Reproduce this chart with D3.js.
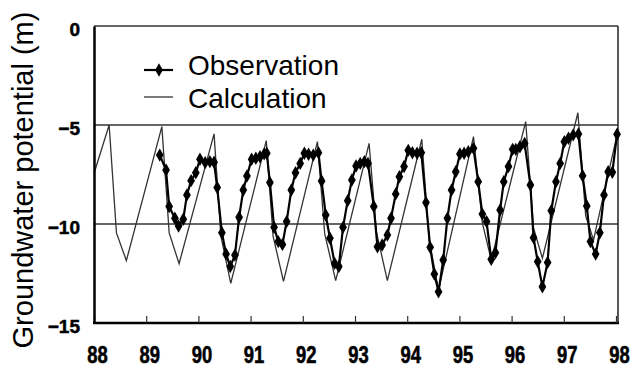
<!DOCTYPE html>
<html>
<head>
<meta charset="utf-8">
<script src="https://cdn.jsdelivr.net/npm/d3@7"></script>
<style>
  body{ margin:0; background:#fff; }
  svg{ display:block; font-family:"Liberation Sans", Arial, sans-serif; }
  .tick text{ font-weight:bold; fill:#000; stroke:#000; stroke-width:0.5px; }
</style>
</head>
<body>
<svg id="chart" width="630" height="372"></svg>
<script>
// year ticks along the bottom
var yearTicks = [88, 89, 90, 91, 92, 93, 94, 95, 96, 97, 98];
var levelTicks = [0, -5, -10, -15];

// calculated groundwater potential (vertices)
var calcYear = [88.00, 88.29, 88.43, 88.62, 89.30, 89.44, 89.63, 90.30, 90.43, 90.62,
                91.30, 91.43, 91.63, 92.28, 92.42, 92.63, 93.27, 93.41, 93.62, 94.28,
                94.42, 94.60, 95.27, 95.44, 95.61, 96.27, 96.42, 96.59, 97.27, 97.42,
                97.57, 98.02];
var calcLevel = [-7.45, -5.00, -10.45, -11.85, -5.08, -10.45, -12.00, -5.45, -10.6, -13.0,
                 -5.79, -10.6, -12.9, -5.84, -10.5, -12.86, -5.93, -10.4, -12.86, -5.72,
                 -10.8, -13.33, -5.59, -9.95, -11.82, -4.83, -10.2, -11.73, -4.38, -9.6,
                 -10.8, -5.5];

// observed groundwater potential (monthly)
var obsYear = [89.26, 89.38, 89.44, 89.55, 89.62, 89.71, 89.78, 89.86, 89.95, 90.03,
               90.13, 90.22, 90.30, 90.36, 90.45, 90.53, 90.61, 90.70, 90.78, 90.86,
               90.93, 91.02, 91.10, 91.18, 91.26, 91.31, 91.37, 91.45, 91.53, 91.61,
               91.69, 91.78, 91.86, 91.95, 92.03, 92.11, 92.20, 92.30, 92.36, 92.44,
               92.52, 92.61, 92.69, 92.77, 92.86, 92.94, 93.02, 93.10, 93.18, 93.25,
               93.36, 93.43, 93.52, 93.62, 93.69, 93.78, 93.85, 93.94, 94.02, 94.10,
               94.19, 94.27, 94.36, 94.44, 94.52, 94.60, 94.69, 94.77, 94.85, 94.93,
               95.01, 95.09, 95.17, 95.27, 95.36, 95.44, 95.52, 95.61, 95.69, 95.78,
               95.85, 95.94, 96.02, 96.08, 96.16, 96.25, 96.36, 96.42, 96.50, 96.59,
               96.69, 96.76, 96.85, 96.93, 97.01, 97.09, 97.18, 97.28, 97.36, 97.44,
               97.51, 97.61, 97.69, 97.77, 97.85, 97.93, 98.02];
var obsLevel = [-6.52, -7.27, -9.12, -9.71, -10.10, -9.76, -8.53, -7.81, -7.41, -6.73,
                -6.90, -6.85, -6.88, -8.16, -10.44, -11.52, -12.15, -11.57, -9.66, -8.28,
                -7.58, -6.73, -6.68, -6.60, -6.46, -6.43, -7.91, -10.17, -10.89, -11.03,
                -9.88, -8.28, -7.41, -6.94, -6.43, -6.48, -6.52, -6.40, -7.83, -9.55,
                -10.72, -11.99, -12.15, -10.17, -8.82, -7.78, -7.07, -6.94, -6.85, -6.94,
                -9.12, -11.15, -11.06, -10.56, -9.71, -8.48, -7.61, -7.10, -6.28, -6.40,
                -6.43, -6.40, -8.92, -11.18, -12.53, -13.42, -11.82, -9.71, -8.28, -7.36,
                -6.46, -6.43, -6.35, -6.18, -7.86, -9.50, -9.88, -11.78, -11.45, -9.29,
                -7.86, -7.10, -6.23, -6.23, -6.10, -5.93, -8.03, -10.69, -11.90, -13.17,
                -11.94, -9.33, -7.86, -6.94, -5.84, -5.67, -5.50, -5.45, -7.56, -9.09,
                -10.89, -11.52, -10.44, -8.53, -7.36, -7.39, -5.47];

// plot box in px (don't name these top/left: window.top is read-only)
var plotL = 94, plotR = 618, plotT = 26, plotB = 323;

var svg = d3.select("#chart");
var x = d3.scaleLinear().domain([88, 98]).range([plotL, 616]);
var y = d3.scaleLinear().domain([-15, 0]).range([plotB, plotT]);

var calc = calcYear.map(function(t, i){ return [t, calcLevel[i]]; });
var obs = obsYear.map(function(t, i){ return [t, obsLevel[i]]; });

// gridlines + plot frame
svg.append("g").selectAll("line.grid")
  .data(levelTicks.filter(function(d){ return d > -15; }))
  .enter().append("line").classed("grid", true)
  .attr("x1", plotL).attr("x2", plotR)
  .attr("y1", function(d){ return y(d); }).attr("y2", function(d){ return y(d); })
  .attr("stroke", "#333").attr("stroke-width", 1.3);
svg.append("line")
  .attr("x1", plotR).attr("x2", plotR).attr("y1", plotT).attr("y2", plotB)
  .attr("stroke", "#222").attr("stroke-width", 1.5);

var line = d3.line()
  .x(function(d){ return x(d[0]); })
  .y(function(d){ return y(d[1]); });

svg.append("path").datum(calc)
  .attr("d", line).attr("fill", "none")
  .attr("stroke", "#333").attr("stroke-width", 1.3);

svg.append("path").datum(obs)
  .attr("d", line).attr("fill", "none")
  .attr("stroke", "#000").attr("stroke-width", 2.2);

var diamond = d3.symbol().type(d3.symbolDiamond).size(52);
svg.append("g").selectAll("path")
  .data(obs).enter().append("path")
  .attr("d", diamond)
  .attr("transform", function(d){ return "translate(" + x(d[0]) + "," + y(d[1]) + ")"; })
  .attr("fill", "#000");

// axes
var xAxis = svg.append("g")
  .attr("transform", "translate(0," + plotB + ")")
  .call(d3.axisBottom(x).tickValues(yearTicks).tickSizeInner(-7).tickSizeOuter(0)
        .tickFormat(function(d){ return d; }));
xAxis.select(".domain").attr("stroke", "#000").attr("stroke-width", 2.5)
  .attr("d", "M" + (plotL - 1) + ",0H" + (plotR + 1));
xAxis.selectAll(".tick line").attr("stroke", "#333").attr("stroke-width", 1.2);
// labels in the source look squeezed and tall
xAxis.selectAll(".tick text")
  .attr("y", 0).attr("dy", 0)
  .attr("transform", "translate(3,40) scale(0.92,1.15)")
  .style("font-size", "20px");

var yAxis = svg.append("g")
  .attr("transform", "translate(" + plotL + ",0)")
  .call(d3.axisLeft(y).tickValues(levelTicks).tickSize(0).tickPadding(14));
yAxis.select(".domain").attr("stroke", "#000").attr("stroke-width", 2.5);
yAxis.selectAll(".tick text")
  .attr("dy", "0.52em")
  .style("font-size", "19px");

svg.append("text")
  .attr("transform", "translate(33,180) rotate(-90)")
  .attr("text-anchor", "middle")
  .style("font-size", "29px")
  .text("Groundwater potential (m)");

// legend
var legend = svg.append("g");
legend.append("line").attr("x1", 144).attr("x2", 173).attr("y1", 70).attr("y2", 70)
  .attr("stroke", "#000").attr("stroke-width", 2.2);
legend.append("path").attr("d", diamond).attr("transform", "translate(159,70)");
legend.append("text").attr("x", 188).attr("y", 75).style("font-size", "28px").text("Observation");
legend.append("line").attr("x1", 144).attr("x2", 173).attr("y1", 97).attr("y2", 97)
  .attr("stroke", "#333").attr("stroke-width", 1.3);
legend.append("text").attr("x", 188).attr("y", 108).style("font-size", "28px").text("Calculation");
</script>
</body>
</html>
